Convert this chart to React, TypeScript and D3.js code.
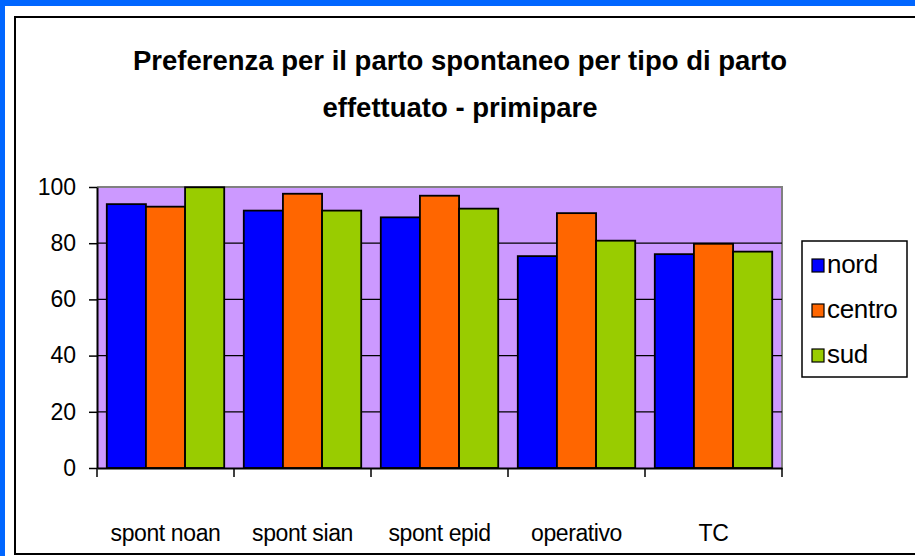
import React, { useEffect, useRef } from 'react';
import * as d3 from 'd3';

const categories = ['spont noan', 'spont sian', 'spont epid', 'operativo', 'TC'];
const seriesNames = ['nord', 'centro', 'sud'];
const nord = [93.9, 91.6, 89.2, 75.4, 76.1];
const centro = [93.0, 97.6, 96.9, 90.7, 79.8];
const sud = [99.9, 91.6, 92.3, 80.9, 77.0];
const yTicks = [0, 20, 40, 60, 80, 100];
const colors = ['#0000FF', '#FF6600', '#99CC00'];
const titleLines = ['Preferenza per il parto spontaneo per tipo di parto', 'effettuato - primipare'];

export default function App() {
  const svgRef = useRef<SVGSVGElement>(null);
  const W = 915;
  const H = 556;
  const plot = { left: 97, right: 782, top: 187, bottom: 468 };
  const font = 'Liberation Sans, Arial, sans-serif';

  useEffect(() => {
    const svg = d3.select(svgRef.current);
    svg.selectAll('*').remove();

    // page frame
    svg.append('rect').attr('width', W).attr('height', H).attr('fill', '#fff');
    svg.append('rect').attr('x', 0).attr('y', 0).attr('width', W).attr('height', 6).attr('fill', '#0066FF');
    svg.append('rect').attr('x', 0).attr('y', 0).attr('width', 5).attr('height', H).attr('fill', '#0066FF');
    svg.append('path')
      .attr('d', `M${W + 5},17 H15 V554 H${W + 5}`)
      .attr('fill', 'none')
      .attr('stroke', '#000')
      .attr('stroke-width', 2);

    // title
    svg.append('g')
      .selectAll('text')
      .data(titleLines)
      .join('text')
      .attr('x', 460)
      .attr('y', (d, i) => 70 + i * 47)
      .attr('text-anchor', 'middle')
      .attr('font-family', font)
      .attr('font-weight', 'bold')
      .attr('font-size', 27.5)
      .text(d => d);

    const x0 = d3.scaleBand().domain(categories).range([plot.left, plot.right]).paddingInner(0).paddingOuter(0);
    const bandPad = x0.bandwidth() * (0.25 / 3.5);
    const x1 = d3.scaleBand().domain(seriesNames)
      .range([bandPad, x0.bandwidth() - bandPad]);
    const y = d3.scaleLinear().domain([0, 100]).range([plot.bottom, plot.top]);

    // plot area
    svg.append('rect')
      .attr('x', plot.left).attr('y', plot.top)
      .attr('width', plot.right - plot.left).attr('height', plot.bottom - plot.top)
      .attr('fill', '#CC99FF');
    svg.append('path')
      .attr('d', `M${plot.left},${plot.top} H${plot.right} V${plot.bottom}`)
      .attr('fill', 'none')
      .attr('stroke', '#808080')
      .attr('stroke-width', 2);

    // gridlines
    svg.append('g')
      .selectAll('line')
      .data(yTicks.filter(t => t > 0 && t < 100))
      .join('line')
      .attr('x1', plot.left).attr('x2', plot.right)
      .attr('y1', d => y(d)).attr('y2', d => y(d))
      .attr('stroke', '#000').attr('stroke-width', 1.2);

    // bars
    const data = [nord, centro, sud];
    categories.forEach((c, ci) => {
      svg.append('g')
        .attr('transform', `translate(${x0(c)},0)`)
        .selectAll('rect')
        .data(seriesNames.map((s, si) => ({ s, v: data[si][ci], color: colors[si] })))
        .join('rect')
        .attr('x', d => x1(d.s)!)
        .attr('y', d => y(d.v))
        .attr('width', x1.bandwidth())
        .attr('height', d => y(0) - y(d.v))
        .attr('fill', d => d.color)
        .attr('stroke', '#000')
        .attr('stroke-width', 1.8);
    });

    // y axis
    const yAxis = svg.append('g')
      .attr('transform', `translate(${plot.left},0)`)
      .call(d3.axisLeft(y).tickValues(yTicks).tickSize(8).tickPadding(13).tickSizeOuter(0));
    yAxis.select('.domain').attr('stroke', '#000').attr('stroke-width', 2);
    yAxis.selectAll('.tick line').attr('stroke', '#000').attr('stroke-width', 1.5);
    yAxis.selectAll('.tick text')
      .attr('font-family', font)
      .attr('font-size', 23)
      .attr('fill', '#000');

    // x axis
    const xAxis = svg.append('g')
      .attr('transform', `translate(0,${plot.bottom})`)
      .call(d3.axisBottom(x0).tickSize(0).tickPadding(0).tickSizeOuter(0));
    xAxis.select('.domain').attr('stroke', '#000').attr('stroke-width', 2);
    xAxis.selectAll('.tick text')
      .attr('y', 73)
      .attr('dy', 0)
      .attr('font-family', font)
      .attr('font-size', 23)
      .attr('letter-spacing', -0.4)
      .attr('fill', '#000');
    const boundaries = [...categories.map(c => x0(c)!), plot.right];
    xAxis.append('g')
      .selectAll('line')
      .data(boundaries)
      .join('line')
      .attr('x1', d => d).attr('x2', d => d)
      .attr('y1', 0).attr('y2', 9)
      .attr('stroke', '#000').attr('stroke-width', 1.5);

    // legend
    const legend = svg.append('g').attr('transform', 'translate(802,241)');
    legend.append('rect')
      .attr('width', 105).attr('height', 136)
      .attr('fill', '#fff').attr('stroke', '#000').attr('stroke-width', 1.5);
    const items = legend.selectAll('g.item')
      .data(seriesNames)
      .join('g')
      .attr('class', 'item')
      .attr('transform', (d, i) => `translate(10,${18 + i * 45})`);
    items.append('rect')
      .attr('width', 12).attr('height', 13)
      .attr('fill', (d, i) => colors[i])
      .attr('stroke', '#000').attr('stroke-width', 1.2);
    items.append('text')
      .attr('x', 15).attr('y', 14)
      .attr('font-family', font)
      .attr('font-size', 26)
      .attr('letter-spacing', -0.3)
      .attr('fill', '#000')
      .text(d => d);
  }, []);

  return (
    <div style={{ position: 'fixed', left: 0, top: 0 }}>
      <svg ref={svgRef} width={W} height={H} style={{ display: 'block' }}></svg>
    </div>
  );
}
